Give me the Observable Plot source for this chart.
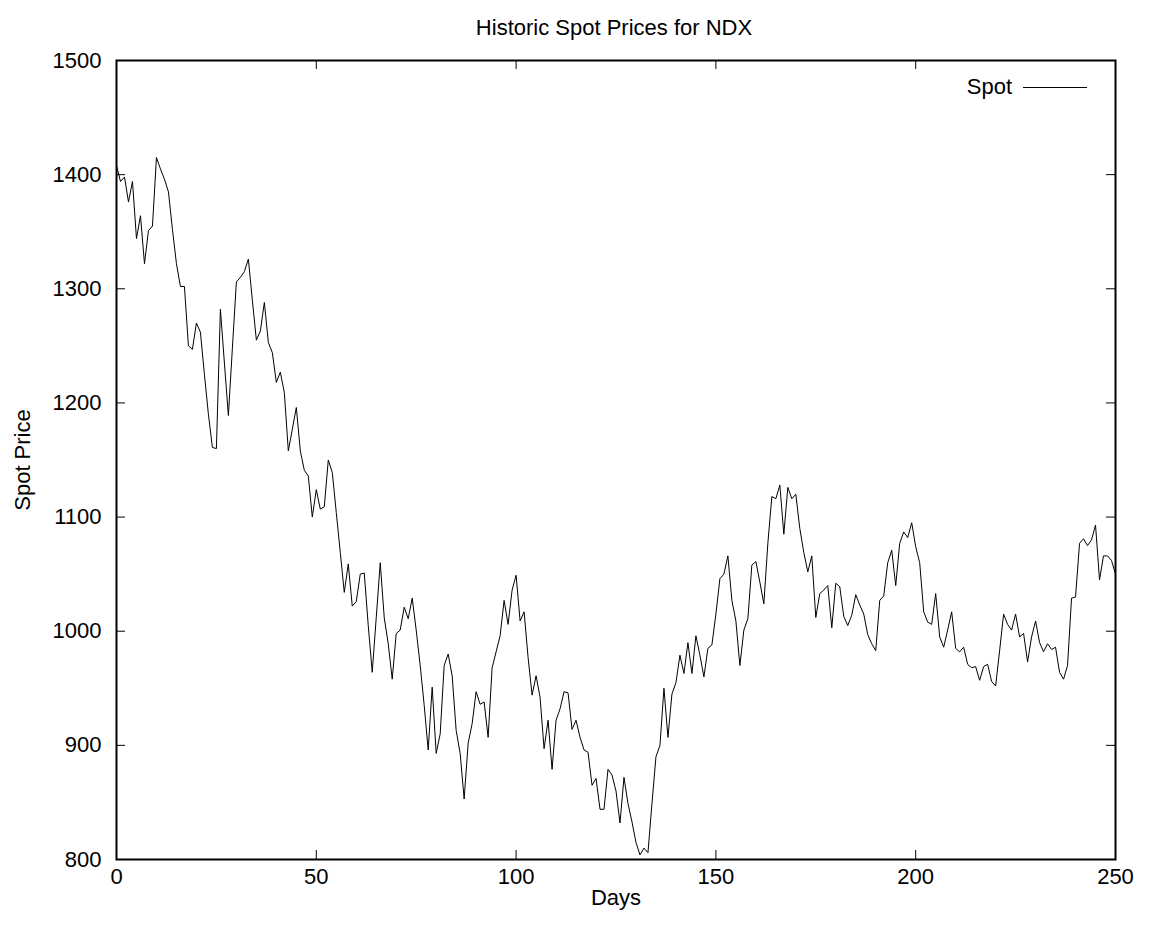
<!DOCTYPE html>
<html>
<head>
<meta charset="utf-8">
<script src="https://cdn.jsdelivr.net/npm/d3@7"></script>
<script src="https://cdn.jsdelivr.net/npm/@observablehq/plot@0.6"></script>
<style>
  html, body { margin: 0; padding: 0; background: #fff; }
  #wrap { position: relative; width: 1151px; height: 944px; font-family: "Liberation Sans", Arial, sans-serif; }
  #title { height: 45px; width: 1151px; position: relative; }
  #title span { position: absolute; left: 614px; top: 15px; transform: translateX(-50%); font-size: 22px; line-height: 26px; white-space: nowrap; }
  #legend { position: absolute; top: 74px; right: 64px; font-size: 22px; line-height: 26px; display: flex; align-items: center; gap: 11px; }
  #legend .swatch { width: 64px; height: 0; border-top: 1px solid #000; }
</style>
</head>
<body>
<div id="wrap">
  <div id="title"><span></span></div>
  <div id="chart"></div>
  <div id="legend"><span class="lbl"></span><span class="swatch"></span></div>
</div>
<script>
const titleText = "Historic Spot Prices for NDX";
const xLabel = "Days";
const yLabel = "Spot Price";
const seriesName = "Spot";
const xTicks = [0, 50, 100, 150, 200, 250];
const yTicks = [800, 900, 1000, 1100, 1200, 1300, 1400, 1500];

// Daily spot price, day 0 .. 250
const spot = [
1408,1394,1398,1376,1394,1344,1364,1322,1351,1355,
1415,1405,1396,1385,1352,1322,1302,1302,1250,1247,
1270,1262,1225,1190,1161,1160,1282,1235,1189,1248,
1306,1310,1315,1326,1290,1255,1263,1288,1253,1244,
1218,1227,1209,1158,1177,1196,1158,1141,1136,1100,
1124,1107,1109,1150,1139,1104,1069,1034,1059,1022,
1026,1050,1051,1005,964,1012,1060,1012,989,958,
998,1001,1021,1011,1029,1001,970,935,896,951,
893,910,970,980,961,913,893,853,902,919,
947,936,938,907,968,982,996,1027,1006,1036,
1049,1009,1017,977,944,961,942,897,922,879,
922,932,947,946,914,922,907,896,894,865,
871,844,844,879,874,860,832,872,849,833,
815,804,810,806,849,890,900,950,907,945,
955,979,963,990,963,996,979,960,985,988,
1015,1046,1050,1066,1027,1009,970,1001,1011,1058,
1061,1043,1024,1077,1118,1116,1128,1085,1126,1116,
1120,1090,1069,1052,1066,1012,1033,1036,1040,1003,
1042,1039,1013,1005,1014,1032,1023,1015,997,989,
983,1027,1031,1060,1071,1040,1077,1087,1082,1095,
1074,1060,1017,1008,1006,1033,995,986,1001,1017,
985,982,986,971,968,969,957,969,971,956,
952,983,1015,1006,1001,1015,995,998,973,995,
1009,990,982,989,984,986,964,958,970,1029,
1030,1077,1081,1075,1080,1093,1045,1066,1066,1062,
1050
];
const days = spot.map((_, i) => i);
const data = days.map((d, i) => ({day: d, price: spot[i]}));

document.querySelector("#title span").textContent = titleText;
document.querySelector("#legend .lbl").textContent = seriesName;

const W = 1151, H = 899;
const mt = 15, mb = 85, ml = 116, mr = 36;
const plotH = H - mt - mb, plotW = W - ml - mr;
const tick = 9;
const font = "Liberation Sans, Arial, sans-serif";
const fs = 22;

const chart = Plot.plot({
  width: W,
  height: H,
  marginTop: mt,
  marginBottom: mb,
  marginLeft: ml,
  marginRight: mr,
  style: {fontFamily: font, fontSize: fs + "px", background: "#fff", color: "#000"},
  x: {domain: [0, 250]},
  y: {domain: [800, 1500]},
  marks: [
    Plot.axisX({ticks: xTicks, tickSize: 0, tickPadding: 9, tickFormat: d => String(d), label: null, fontSize: fs}),
    Plot.axisY({ticks: yTicks, tickSize: 0, tickPadding: 15, tickFormat: d => String(d), label: null, fontSize: fs}),
    // inward ticks on all four sides
    Plot.tickX(xTicks, {x: d => d, insetTop: plotH - tick, stroke: "#000"}),
    Plot.tickX(xTicks, {x: d => d, insetBottom: plotH - tick, stroke: "#000"}),
    Plot.tickY(yTicks, {y: d => d, insetRight: plotW - tick, stroke: "#000"}),
    Plot.tickY(yTicks, {y: d => d, insetLeft: plotW - tick, stroke: "#000"}),
    Plot.lineY(data, {x: "day", y: "price", stroke: "#000", strokeWidth: 1}),
    Plot.frame({stroke: "#000", strokeWidth: 2}),
    Plot.text([yLabel], {frameAnchor: "left", dx: -94, rotate: -90, textAnchor: "middle", lineAnchor: "middle", fontSize: fs}),
    Plot.text([xLabel], {frameAnchor: "bottom", dy: 38, textAnchor: "middle", lineAnchor: "middle", fontSize: fs})
  ]
});
document.getElementById("chart").appendChild(chart);
</script>
</body>
</html>
